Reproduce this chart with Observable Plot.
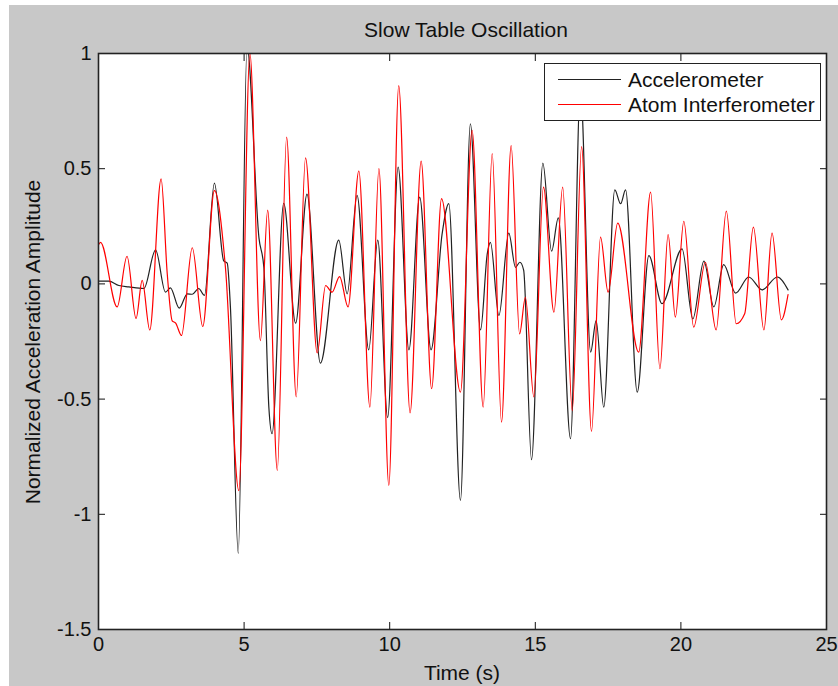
<!DOCTYPE html>
<html>
<head>
<meta charset="utf-8">
<script src="https://cdn.jsdelivr.net/npm/d3@7"></script>
<script src="https://cdn.jsdelivr.net/npm/@observablehq/plot@0.6"></script>
<style>
html, body { margin: 0; padding: 0; background: #ffffff; }
#wrap { position: relative; width: 838px; height: 686px; overflow: hidden; font-family: "Liberation Sans", Arial, sans-serif; }
#bg { position: absolute; left: 9px; top: 5px; right: 0; bottom: 0; background: #c8c8c8; }
#chart { position: absolute; left: 0; top: 0; }
.lbl { position: absolute; color: #111; font-size: 21px; white-space: nowrap; line-height: 1; }
#title { left: 466px; top: 29px; transform: translate(-50%, -50%); }
#xlab { left: 462px; top: 672px; transform: translate(-50%, -50%); }
#ylab { left: 32px; top: 342px; transform: translate(-50%, -50%) rotate(-90deg); }
#legend { position: absolute; left: 544px; top: 63px; width: 277px; height: 58px; background: #fff; border: 1.5px solid #222; box-sizing: border-box; }
.lg-row { position: absolute; left: 0; height: 21px; }
.lg-line { position: absolute; left: 13px; width: 63px; top: 10px; height: 0; }
.lg-text { position: absolute; left: 83px; top: 0; font-size: 21px; line-height: 21px; color: #111; white-space: nowrap; }
</style>
</head>
<body>
<div id="wrap">
  <div id="bg"></div>
  <div id="chart"></div>
  <div class="lbl" id="title">Slow Table Oscillation</div>
  <div class="lbl" id="xlab">Time (s)</div>
  <div class="lbl" id="ylab">Normalized Acceleration Amplitude</div>
  <div id="legend"></div>
</div>
<script>
// ---- Data ----
const seriesNames = ["Accelerometer", "Atom Interferometer"];
const seriesColors = ["#222222", "#ff0000"];

const accelTime = [0.0, 0.35, 0.70, 1.04, 1.56, 1.96, 2.30, 2.47, 2.77, 3.05, 3.22, 3.44, 3.64, 3.98,
  4.30, 4.42, 4.53, 4.80, 5.10, 5.51, 5.68, 5.85, 5.96, 6.36, 6.77, 7.16, 7.62, 8.25, 8.54, 8.88,
  9.28, 9.59, 9.93, 10.29, 10.66, 11.03, 11.42, 11.80, 12.03, 12.43, 12.77, 13.12, 13.35, 13.46,
  13.75, 14.09, 14.32, 14.47, 14.60, 14.87, 15.26, 15.56, 15.79, 16.21, 16.55, 16.90, 17.09, 17.35,
  17.73, 17.93, 18.10, 18.50, 18.90, 19.35, 20.04, 20.41, 20.79, 21.13, 21.47, 21.88, 22.33, 22.79,
  23.31, 23.68];
const accelValue = [0.012, 0.012, -0.007, -0.013, -0.02, 0.148, -0.036, -0.017, -0.105, -0.043, -0.045, -0.02, -0.05, 0.437,
  0.10, 0.09, -0.10, -1.17, 1.03, 0.20, 0.07, -0.535, -0.65, 0.35, -0.17, 0.39, -0.344, 0.19, -0.043, 0.384,
  -0.286, 0.19, -0.58, 0.507, -0.286, 0.377, -0.286, 0.217, 0.348, -0.94, 0.695, -0.20, 0.13, 0.18,
  -0.137, 0.22, 0.072, 0.094, 0.06, -0.763, 0.524, 0.142, 0.287, -0.672, 0.85, -0.296, -0.159, -0.535,
  0.408, 0.348, 0.408, -0.47, 0.123, -0.086, 0.152, -0.152, 0.099, -0.10, 0.084, -0.04, 0.03, -0.026,
  0.03, -0.026];

const atomTime = [0.0, 0.07, 0.64, 0.98, 1.29, 1.50, 1.76, 2.15, 2.36, 2.53, 2.65, 2.85, 3.22, 3.58, 3.98,
  4.36, 4.82, 5.20, 5.56, 5.81, 6.14, 6.46, 6.79, 7.11, 7.51, 7.80, 8.02, 8.28, 8.57, 8.94, 9.32, 9.63,
  9.97, 10.31, 10.70, 11.08, 11.44, 11.78, 12.43, 12.83, 13.21, 13.52, 13.84, 14.17, 14.46, 14.66,
  14.95, 15.28, 15.64, 15.94, 16.27, 16.59, 16.93, 17.24, 17.50, 17.83, 18.55, 18.96, 19.28, 19.56,
  19.81, 20.10, 20.44, 20.84, 21.21, 21.56, 21.90, 22.19, 22.49, 22.85, 23.13, 23.45, 23.68];
const atomValue = [0.17, 0.18, -0.10, 0.12, -0.15, 0.015, -0.20, 0.456, 0.045, -0.16, -0.17, -0.224, 0.157, -0.185, 0.405,
  0.07, -0.897, 1.0, -0.246, 0.32, -0.81, 0.637, -0.49, 0.547, -0.30, -0.007, -0.036, 0.032, -0.10, 0.49, -0.535, 0.50,
  -0.875, 0.861, -0.56, 0.533, -0.455, 0.37, -0.47, 0.666, -0.535, 0.565, -0.60, 0.60, -0.217, -0.058,
  -0.49, 0.42, -0.123, 0.42, -0.55, 0.596, -0.64, 0.203, -0.036, 0.264, -0.296, 0.398, -0.368, 0.214,
  -0.144, 0.272, -0.188, 0.094, -0.20, 0.316, -0.173, -0.13, 0.246, -0.2, 0.22, -0.156, -0.046];

const xTicks = [0, 5, 10, 15, 20, 25];
const yTicks = [-1.5, -1, -0.5, 0, 0.5, 1];

// ---- Build tables ----
const accel = accelTime.map((t, i) => ({t, v: accelValue[i]}));
const atom = atomTime.map((t, i) => ({t, v: atomValue[i]}));
const fmt = d => String(d);

const chart = Plot.plot({
  width: 838,
  height: 686,
  marginLeft: 98,
  marginRight: 12,
  marginTop: 53,
  marginBottom: 57,
  style: {background: "transparent", fontFamily: "Liberation Sans, Arial, sans-serif", fontSize: "20px", color: "#111"},
  x: {domain: [0, 25]},
  y: {domain: [-1.5, 1]},
  marks: [
    Plot.frame({fill: "white", stroke: null}),
    Plot.line(accel, {x: "t", y: "v", stroke: seriesColors[0], strokeWidth: 1.2, curve: "monotone-x", clip: true}),
    Plot.line(atom, {x: "t", y: "v", stroke: seriesColors[1], strokeWidth: 1.2, curve: "monotone-x", clip: true}),
    Plot.axisX({anchor: "bottom", ticks: xTicks, tickSize: -7, tickPadding: 14, tickFormat: fmt, label: null, fontSize: 20}),
    Plot.axisX({anchor: "top", ticks: xTicks, tickSize: -7, tickFormat: () => "", label: null}),
    Plot.axisY({anchor: "left", ticks: yTicks, tickSize: -7, tickPadding: 14, tickFormat: fmt, label: null, fontSize: 20}),
    Plot.axisY({anchor: "right", ticks: yTicks, tickSize: -7, tickFormat: () => "", label: null}),
    Plot.frame({stroke: "#222", strokeWidth: 1.6})
  ]
});
document.getElementById("chart").appendChild(chart);

// ---- Legend ----
const legend = document.getElementById("legend");
seriesNames.forEach((name, i) => {
  const row = document.createElement("div");
  row.className = "lg-row";
  row.style.top = (5 + i * 25) + "px";
  row.style.width = "100%";
  const ln = document.createElement("div");
  ln.className = "lg-line";
  ln.style.borderTop = "1.3px solid " + seriesColors[i];
  const tx = document.createElement("div");
  tx.className = "lg-text";
  tx.textContent = name;
  row.appendChild(ln);
  row.appendChild(tx);
  legend.appendChild(row);
});
</script>
</body>
</html>
